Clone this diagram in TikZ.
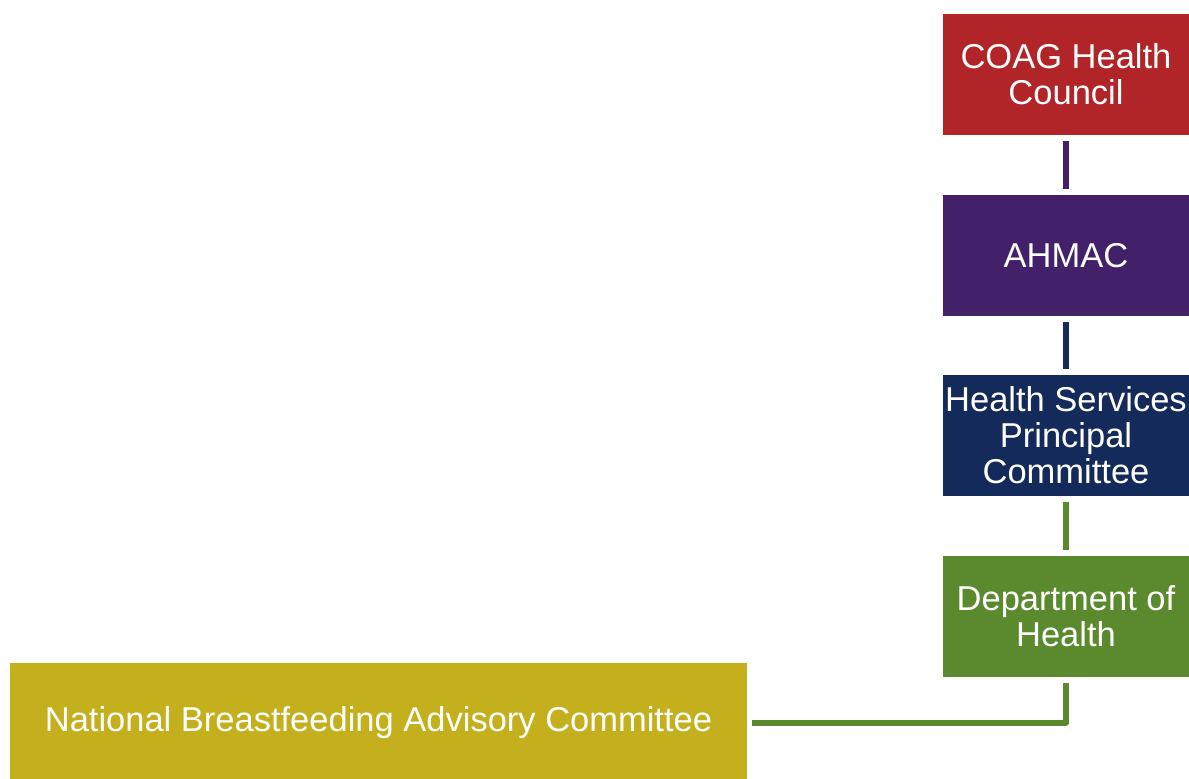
\documentclass[tikz,border=0pt]{standalone}
\usepackage{fontspec}
\setmainfont{Liberation Sans}
\definecolor{cred}{HTML}{B12427}
\definecolor{cpurple}{HTML}{42206A}
\definecolor{cnavy}{HTML}{132A5A}
\definecolor{cgreen}{HTML}{5B8A2E}
\definecolor{cyellow}{HTML}{C4AF1C}
\begin{document}
\begin{tikzpicture}[x=1pt,y=-1pt,
  orgbox/.style={minimum width=246pt,minimum height=121pt,inner sep=0pt,text=white,align=center,font=\fontsize{34.5}{36}\selectfont},
  link/.style={line width=6pt}]
\useasboundingbox (0,0) rectangle (1189,779);
\node[orgbox,fill=cred] (coag) at (1066,74.5) {COAG Health\\Council};
\node[orgbox,fill=cpurple] (ahmac) at (1066,255.5) {AHMAC};
\node[orgbox,fill=cnavy] (hspc) at (1066,435.5) {Health Services\\Principal\\Committee};
\node[orgbox,fill=cgreen] (doh) at (1066,616.5) {Department of\\Health};
\node[orgbox,fill=cyellow,minimum width=737pt,minimum height=120pt] (nbac) at (378.5,723) {National Breastfeeding Advisory Committee};
\draw[link,cpurple] ([yshift=-6pt]coag.south) -- ([yshift=6pt]ahmac.north);
\draw[link,cnavy] ([yshift=-6pt]ahmac.south) -- ([yshift=6pt]hspc.north);
\draw[link,cgreen] ([yshift=-6pt]hspc.south) -- ([yshift=6pt]doh.north);
\draw[link,cgreen,line join=round] ([yshift=-6pt]doh.south) |- ([xshift=5pt,yshift=0.5pt]nbac.east);
\end{tikzpicture}
\end{document}
